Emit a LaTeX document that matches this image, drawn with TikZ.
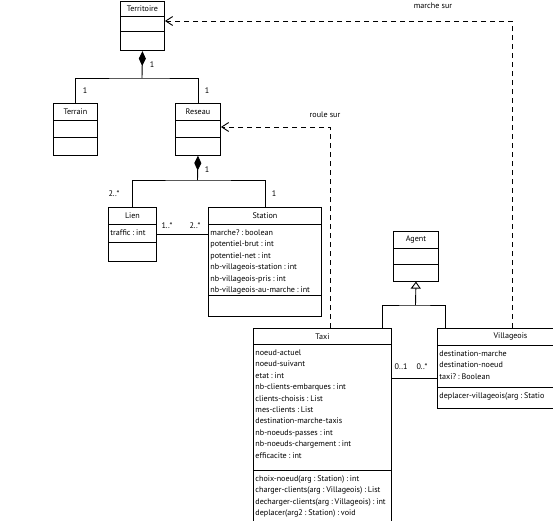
\documentclass[tikz,border=0pt]{standalone}
\usepackage{fontspec}
\setmainfont{PT Sans}
\usetikzlibrary{shapes.multipart, arrows.meta}

\newcommand{\clsname}[2]{\parbox[c][#1][c]{\linewidth}{\centering #2}}
\newcommand{\clsbody}[2]{\parbox[c][#1][t]{\linewidth}{\raggedright\spaceskip=1.9pt plus 0.5pt\vspace*{5pt}#2}}

\begin{document}
\begin{tikzpicture}[x=1pt, y=-1pt, font=\fontsize{8.1}{11.4}\selectfont\frenchspacing]
\tikzstyle{cls} = [rectangle split, rectangle split parts=3, draw, line width=0.9pt, inner xsep=2pt, inner ysep=0pt, anchor=north west]
\tikzstyle{link} = [line width=0.9pt]
\tikzstyle{dep} = [link, dash pattern=on 5pt off 4pt, -{Straight Barb[length=7pt,width=9pt]}]
\tikzstyle{comp} = [link, -{Diamond[length=15pt,width=7pt]}]
\tikzstyle{gen} = [link, -{Triangle[open,length=7pt,width=10pt]}]
\tikzstyle{mult} = [inner sep=0pt]

\useasboundingbox (0,0) rectangle (553,520);
\clip (0,0) rectangle (553,520);

% classes
\node [cls, text width=40pt] (territoire) at (120,1) {\clsname{14pt}{Territoire}\nodepart{two}\clsname{14.5pt}{}\nodepart{three}\clsname{18pt}{}};
\node [cls, text width=40pt] (terrain) at (53,103) {\clsname{16pt}{Terrain}\nodepart{two}\clsname{16pt}{}\nodepart{three}\clsname{17pt}{}};
\node [cls, text width=41pt] (reseau) at (175,103) {\clsname{16pt}{Reseau}\nodepart{two}\clsname{16pt}{}\nodepart{three}\clsname{17pt}{}};
\node [cls, text width=44pt] (lien) at (108,207) {\clsname{16pt}{Lien}\nodepart{two}\clsbody{17pt}{traffic : int}\nodepart{three}\clsname{18pt}{}};
\node [cls, text width=109pt] (station) at (208,207) {\clsname{16pt}{Station}\nodepart{two}\clsbody{70pt}{marche? : boolean\\potentiel-brut : int\\potentiel-net : int\\nb-villageois-station : int\\nb-villageois-pris : int\\nb-villageois-au-marche : int}\nodepart{three}\clsname{20pt}{}};
\node [cls, text width=41pt] (agent) at (393,231) {\clsname{16pt}{Agent}\nodepart{two}\clsname{15pt}{}\nodepart{three}\clsname{16pt}{}};
\node [cls, text width=134pt] (taxi) at (253,328) {\clsname{15pt}{Taxi}\nodepart{two}\clsbody{125pt}{noeud-actuel\\noeud-suivant\\etat : int\\nb-clients-embarques : int\\clients-choisis : List\\mes-clients : List\\destination-marche-taxis\\nb-noeuds-passes : int\\nb-noeuds-chargement : int\\efficacite : int}\nodepart{three}\clsbody{56pt}{choix-noeud(arg : Station) : int\\charger-clients(arg : Villageois) : List\\decharger-clients(arg : Villageois) : int\\deplacer(arg2 : Station) : void}};
\node [cls, text width=142pt] (villageois) at (437,328) {\clsname{16pt}{Villageois}\nodepart{two}\clsbody{41pt}{destination-marche\\destination-noeud\\taxi? : Boolean}\nodepart{three}\clsbody{20pt}{deplacer-villageois(arg : Statio}};

% joints
\coordinate (j1) at (142,78);
\coordinate (j2) at (197.5,180);
\coordinate (j3) at (415.5,305);
\coordinate (rs) at (330,127);
\coordinate (ms) at (512,21);
\coordinate (ls) at (0,234);
\coordinate (tv) at (0,378);

% connectors
\draw [link] (terrain.north) |- (j1) -| (reseau.north);
\draw [comp] (j1) -- (territoire.south);
\draw [link] (lien.north) |- (j2) -| (station.north);
\draw [comp] (j2) -- (reseau.south);
\draw [link] (lien.east |- ls) -- (station.west |- ls);
\draw [link] ([xshift=60pt]taxi.north) |- (j3) -| ([xshift=-65pt]villageois.north);
\draw [gen] (j3) -- (agent.south);
\draw [link] (taxi.east |- tv) -- (villageois.west |- tv);
\draw [dep] (taxi.north -| rs) -- (rs) -- (rs -| reseau.east);
\draw [dep] (villageois.north -| ms) -- (ms) -- (ms -| territoire.east);

% labels
\node [mult] (m1) at (152,65) {1};
\node [mult] (m2) at (85,91) {1};
\node [mult] (m3) at (207,91) {1};
\node [mult] (m4) at (207,170) {1};
\node [mult] (m5) at (114,194) {2..*};
\node [mult] (m6) at (274,194) {1};
\node [mult] (m7) at (167,226) {1..*};
\node [mult] (m8) at (195,226) {2..*};
\node [mult] (m9) at (401,367) {0..1};
\node [mult] (m10) at (422,367) {0..*};
\node [mult] (roule) at (325,115) {roule sur};
\node [mult] (marche) at (433,6) {marche sur};

\end{tikzpicture}
\end{document}
